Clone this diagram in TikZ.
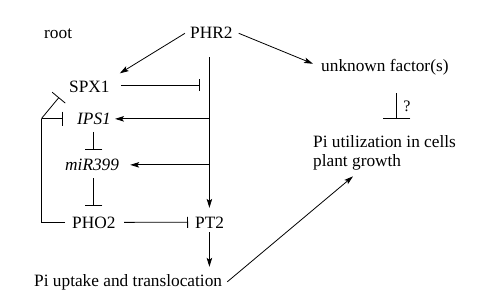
\documentclass[tikz,border=0pt]{standalone}
\usepackage{fontspec}
\setmainfont{Liberation Serif}
\newfontfamily\tnr{Liberation Serif}
\usetikzlibrary{arrows.meta,calc}
\begin{document}
\begin{tikzpicture}[x=1pt,y=-1pt,
  txt/.style={inner sep=0pt, anchor=base west, font=\tnr\fontsize{17.3}{19}\selectfont},
  conn/.style={line width=0.8pt},
  arr/.style={conn,-{Stealth[length=9pt,width=5.5pt,inset=2pt]}},
  inhib/.style={conn,-{Bar[width=#1]}},
  inhib/.default=13pt
]
\useasboundingbox (0,0) rectangle (496,301);
% nodes
\node[txt] (root) at (44,38) {root};
\node[txt] (PHR2) at (190,38) {PHR2};
\node[txt] (SPX1) at (69,92) {SPX1};
\node[txt] (IPS1) at (77,124.5) {\textit{IPS1}};
\node[txt] (miR) at (65,170.5) {\textit{miR399}};
\node[txt] (PHO2) at (72,228) {PHO2};
\node[txt] (PT2) at (195,228) {PT2};
\node[txt] (PiU) at (34,286) {Pi uptake and translocation};
\node[txt] (unk) at (321,71) {unknown factor(s)};
\node[inner sep=0pt, anchor=north west, align=left, font=\tnr\fontsize{17.3}{19}\selectfont] (util) at (313,135.2) {Pi utilization in cells\\plant growth};
% junctions
\coordinate (s0) at (209.4,57);
\coordinate (fb) at (41.5,118.5);
% connectors
\draw[arr] ($(PHR2.west)+(-5,1)$) -- ($(SPX1.north east)+(10,-7)$);
\draw[arr] ($(PHR2.east)+(6,1)$) -- ($(unk.west)+(-8,-3)$);
\draw[inhib=12pt] ($(SPX1.east)+(11,-1)$) -- ($(SPX1.east -| s0)+(-10,-1)$);
\draw[arr] (s0) -- ($(s0 |- PT2.north)+(0,-8.5)$);
\draw[arr] (IPS1.east -| s0) -- ($(IPS1.east)+(4,0)$);
\draw[arr] (miR.east -| s0) -- ($(miR.east)+(11,0)$);
\draw[inhib=17pt] ($(PHO2.north |- IPS1.south)+(0,7)$) -- ($(PHO2.north |- miR.north)+(0,-9)$);
\draw[inhib=17pt] ($(PHO2.north |- miR.south)+(0,7.5)$) -- ($(PHO2.north)+(0,-10.5)$);
\draw[inhib=11pt] ($(PHO2.east)+(8.5,0)$) -- ($(PT2.west)+(-7,0)$);
\draw[arr] ($(s0 |- PT2.south)+(0,4)$) -- ($(s0 |- PiU.north)+(0,-7)$);
\draw[arr] ($(PiU.east)+(5,0)$) -- ($(util.south west)+(40,6)$);
\draw[conn] ($(PHO2.west)+(-7,0)$) -| (fb);
\draw[inhib=14pt] (fb) -- ($(fb -| IPS1.west)+(-14,0)$);
\draw[inhib=17pt] (fb) -- ($(SPX1.south west)+(-10,5)$);
\draw[inhib=27pt] ($(unk.south)+(12,18.5)$) -- ($(unk.south)+(12,44)$)
  node[pos=0.5, anchor=west, inner sep=0pt, xshift=6pt, font=\tnr\fontsize{16}{16}\selectfont] (q) {?};
\end{tikzpicture}
\end{document}
